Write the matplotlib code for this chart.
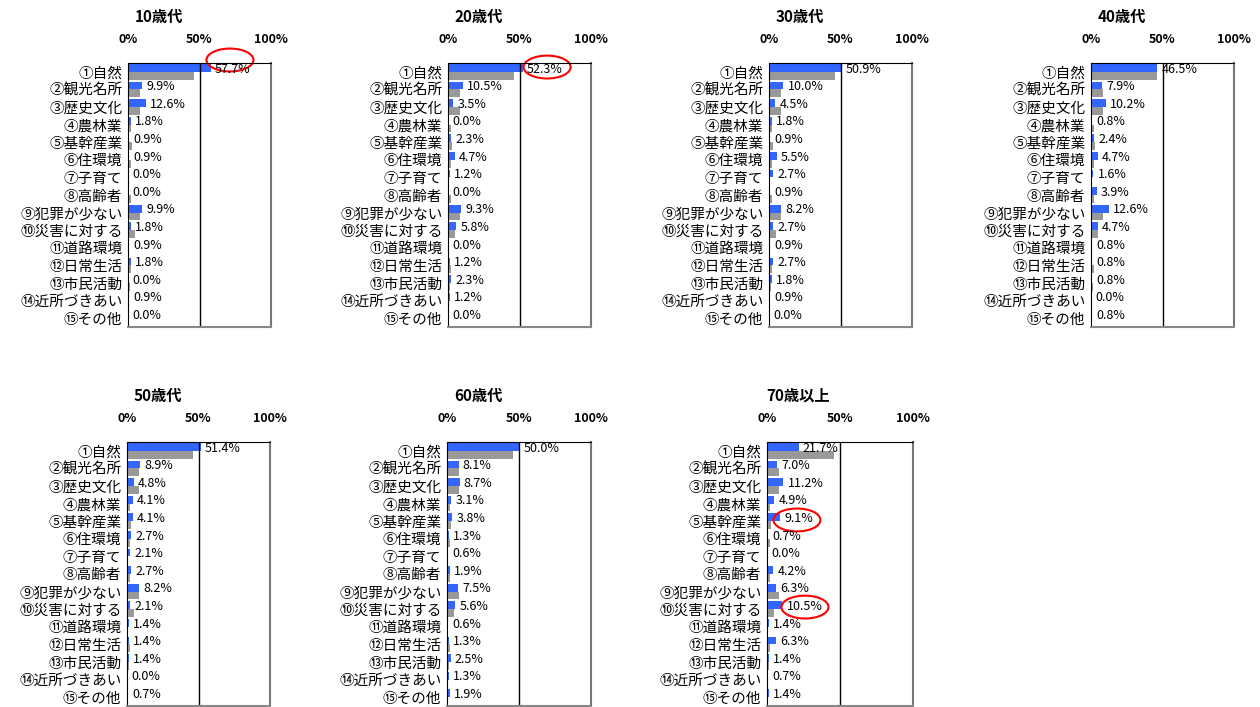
import matplotlib
matplotlib.use("Agg")
import matplotlib.pyplot as plt
from matplotlib.patches import Ellipse

plt.rcParams['font.family'] = ['Noto Sans CJK JP', 'DejaVu Sans']

# 項目
koumoku = ["①自然", "②観光名所", "③歴史文化", "④農林業", "⑤基幹産業", "⑥住環境",
           "⑦子育て", "⑧高齢者", "⑨犯罪が少ない", "⑩災害に対する", "⑪道路環境",
           "⑫日常生活", "⑬市民活動", "⑭近所づきあい", "⑮その他"]

nendai = ["10歳代", "20歳代", "30歳代", "40歳代", "50歳代", "60歳代", "70歳以上"]

v10 = [57.7, 9.9, 12.6, 1.8, 0.9, 0.9, 0.0, 0.0, 9.9, 1.8, 0.9, 1.8, 0.0, 0.9, 0.0]
v20 = [52.3, 10.5, 3.5, 0.0, 2.3, 4.7, 1.2, 0.0, 9.3, 5.8, 0.0, 1.2, 2.3, 1.2, 0.0]
v30 = [50.9, 10.0, 4.5, 1.8, 0.9, 5.5, 2.7, 0.9, 8.2, 2.7, 0.9, 2.7, 1.8, 0.9, 0.0]
v40 = [46.5, 7.9, 10.2, 0.8, 2.4, 4.7, 1.6, 3.9, 12.6, 4.7, 0.8, 0.8, 0.8, 0.0, 0.8]
v50 = [51.4, 8.9, 4.8, 4.1, 4.1, 2.7, 2.1, 2.7, 8.2, 2.1, 1.4, 1.4, 1.4, 0.0, 0.7]
v60 = [50.0, 8.1, 8.7, 3.1, 3.8, 1.3, 0.6, 1.9, 7.5, 5.6, 0.6, 1.3, 2.5, 1.3, 1.9]
v70 = [21.7, 7.0, 11.2, 4.9, 9.1, 0.7, 0.0, 4.2, 6.3, 10.5, 1.4, 6.3, 1.4, 0.7, 1.4]

# 全体(グレー)
zentai = [46.0, 8.2, 8.2, 2.2, 3.0, 2.2, 1.0, 1.8, 8.2, 4.7, 1.0, 2.3, 1.6, 1.0, 1.0]

# 赤丸 (パネル番号, 項目番号, 横ずれ, 縦ずれ)
akamaru = [(0, 0, 13.6, -0.67), (1, 0, 17.0, -0.27), (6, 4, 11.4, -0.07), (6, 9, 15.5, -0.12)]

W, H = 1260, 707
fig = plt.figure(figsize=(W / 100, H / 100), dpi=100)

# パネル位置 (ピクセル)
ichi = [(128, 63, 143), (448, 63, 143), (769, 63, 143), (1091, 63, 143),
        (127, 442, 143), (447, 442, 144), (767, 442, 146)]
takasa = 264

ao = "#3366ff"
hai = "#999999"

subete = [v10, v20, v30, v40, v50, v60, v70]
axs = []
for n in range(len(subete)):
    x0, y0, w = ichi[n]
    ax = fig.add_axes([x0 / W, 1 - (y0 + takasa) / H, w / W, takasa / H])
    vals = subete[n]
    ys = list(range(len(koumoku)))
    ax.barh([y - 0.22 for y in ys], vals, height=0.44, color=ao)
    ax.barh([y + 0.22 for y in ys], zentai, height=0.44, color=hai)
    for i in range(len(vals)):
        ax.annotate("%.1f%%" % vals[i], (vals[i], i - 0.15), xytext=(3, 0),
                    textcoords="offset points", ha="left", va="center",
                    fontsize=9, clip_on=False)
    ax.axvline(50, color="black", lw=1)
    ax.set_xlim(0, 100)
    ax.set_ylim(14.5, -0.5)
    ax.set_yticks(ys)
    ax.set_yticklabels(koumoku, fontsize=10.5)
    ax.tick_params(axis="y", length=0, pad=4)
    ax.xaxis.tick_top()
    ax.set_xticks([0, 50, 100])
    ax.set_xticklabels(["0%", "50%", "100%"], fontsize=9, fontweight="bold")
    ax.tick_params(axis="x", length=0, pad=12)
    ax.spines["top"].set_color("black")
    ax.spines["left"].set_color("black")
    ax.spines["right"].set_color("#777777")
    ax.spines["bottom"].set_color("#888888")
    ax.spines["right"].set_linewidth(1.5)
    ax.spines["bottom"].set_linewidth(1.5)
    ax.text(31 / w, 1 + 46 / takasa, nendai[n], transform=ax.transAxes,
            ha="center", va="center", fontsize=11, fontweight="bold")
    axs.append(ax)

# 赤丸
for p, k, dx, dy in akamaru:
    ax = axs[p]
    w = ichi[p][2]
    e = Ellipse((subete[p][k] + dx, k + dy), width=47 / w * 100, height=1.3,
                fill=False, edgecolor="red", lw=1.5, clip_on=False)
    ax.add_patch(e)

# 下の注記 (参照図では下端で切れている)
fig.text(945 / W, 1 - 722 / H, "グレーのグラフは全体の数値", fontsize=13,
         ha="left", va="baseline")

fig.savefig("out.png", dpi=100)
